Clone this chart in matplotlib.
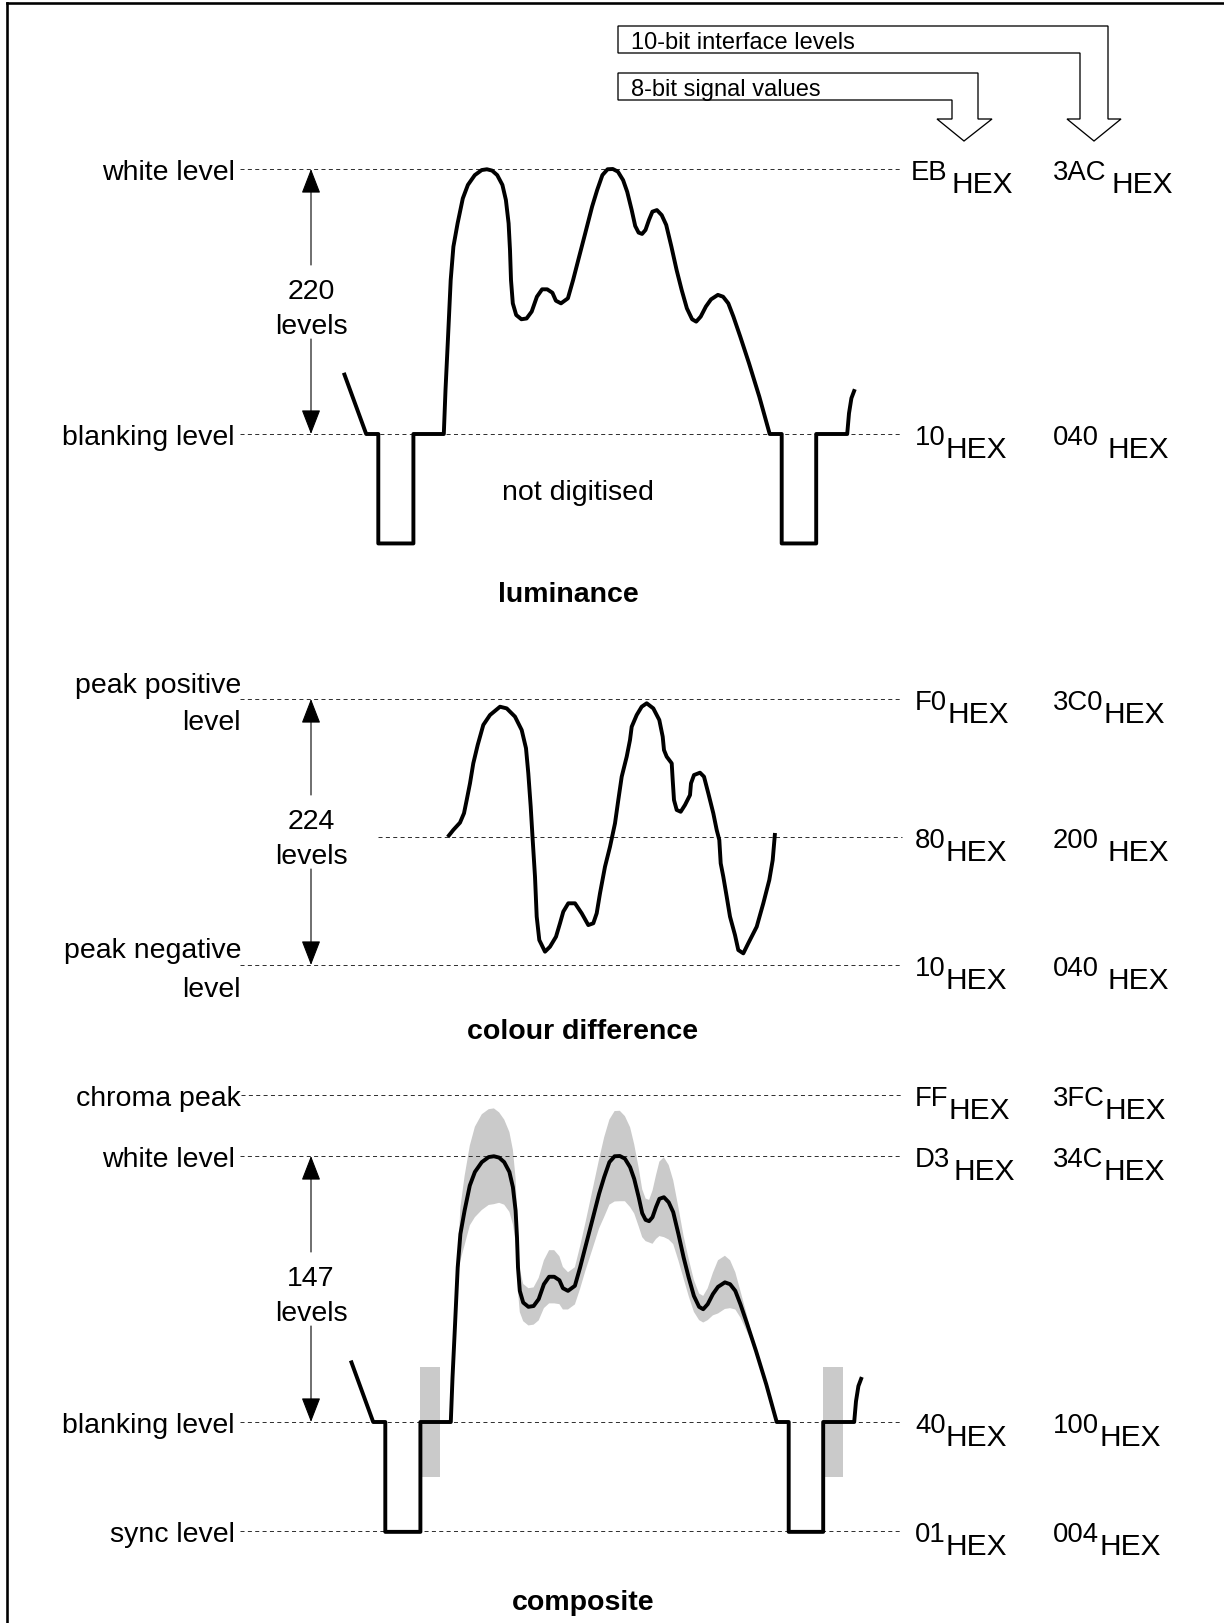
import numpy as np
import matplotlib
matplotlib.use("Agg")
import matplotlib.pyplot as plt
from matplotlib.patches import Polygon, Rectangle

plt.rcParams['font.family'] = ['Liberation Sans', 'DejaVu Sans']
plt.rcParams['lines.scale_dashes'] = False

PX = 0.72  # points per pixel at 100 dpi

# ---------------- data ----------------
# luminance picture signal: x position, level (0 = blanking, 1 = white, negative = sync)
LUMA_X = [343.8, 366.2, 378.3, 378.3, 413.4, 413.4, 443.8, 445.5, 447.9, 450.7, 453.4, 457.6,
          462.8, 467.9, 474.8, 481.7, 486.9, 492.1, 497.2, 502.4, 505.9, 508.6, 510.0, 511.0,
          512.8, 516.2, 521.4, 526.6, 531.7, 536.9, 542.1, 547.2, 552.4, 555.9, 561.0, 567.9,
          573.1, 578.3, 585.2, 592.1, 597.2, 602.4, 607.6, 612.8, 617.9, 623.1, 627.2, 631.7,
          635.2, 638.6, 642.1, 645.5, 649.0, 652.4, 656.9, 661.7, 666.2, 671.4, 676.6, 681.7,
          686.9, 692.1, 696.2, 700.7, 705.9, 711.0, 717.9, 723.1, 728.3, 733.4, 740.3, 749.0,
          759.3, 769.7, 781.7, 781.7, 816.2, 816.2, 847.2, 849.0, 851.4, 854.8]
LUMA_LEVEL = [0.231, 0, 0, -0.413, -0.413, 0, 0, 0.166, 0.355, 0.581, 0.707, 0.795,
              0.889, 0.940, 0.977, 0.996, 0.999, 0.994, 0.977, 0.940, 0.883, 0.795, 0.694, 0.581,
              0.493, 0.449, 0.433, 0.436, 0.462, 0.518, 0.546, 0.546, 0.533, 0.503, 0.493, 0.512,
              0.581, 0.657, 0.757, 0.858, 0.921, 0.977, 0.999, 1.0, 0.990, 0.958, 0.914, 0.845,
              0.785, 0.760, 0.755, 0.770, 0.808, 0.839, 0.845, 0.826, 0.789, 0.707, 0.619, 0.543,
              0.474, 0.433, 0.424, 0.443, 0.481, 0.508, 0.525, 0.518, 0.493, 0.443, 0.367, 0.267,
              0.141, 0, 0, -0.413, -0.413, 0, 0, 0.078, 0.135, 0.169]
# chroma amplitude (same units as level) riding on the composite signal
CHROMA_AMP = [0, 0, 0, 0, 0, 0, 0, 0, 0, 0.03, 0.10, 0.13,
              0.15, 0.17, 0.18, 0.18, 0.18, 0.17, 0.16, 0.15, 0.14, 0.12, 0.10, 0.09,
              0.08, 0.07, 0.07, 0.07, 0.08, 0.09, 0.10, 0.10, 0.09, 0.08, 0.07, 0.07,
              0.08, 0.09, 0.11, 0.13, 0.15, 0.16, 0.17, 0.17, 0.16, 0.15, 0.13, 0.11,
              0.09, 0.08, 0.08, 0.10, 0.12, 0.14, 0.15, 0.14, 0.12, 0.10, 0.08, 0.07,
              0.06, 0.05, 0.05, 0.06, 0.08, 0.10, 0.10, 0.09, 0.07, 0.05, 0.03, 0.0,
              0, 0, 0, 0, 0, 0, 0, 0, 0, 0]
BURST_AMP = 0.207

# colour difference signal: x position, value (+1 = peak positive, 0 = 80HEX, -1 = peak negative)
CD_X = [447.7, 453.3, 460.0, 464.0, 466.7, 470.0, 473.3, 477.7, 483.3, 490.0, 500.0, 506.7,
        515.0, 521.7, 526.0, 528.3, 530.7, 532.7, 535.0, 536.7, 539.3, 545.0, 550.0, 556.0,
        560.0, 563.3, 568.3, 575.0, 581.7, 588.3, 593.3, 596.7, 600.0, 605.0, 610.0, 615.0,
        618.3, 621.7, 626.7, 630.0, 631.7, 636.7, 641.7, 646.7, 653.3, 659.3, 662.7, 664.0,
        666.7, 671.7, 672.7, 674.0, 676.7, 680.7, 685.0, 690.0, 691.0, 694.0, 700.0, 704.0,
        708.3, 713.3, 716.7, 719.3, 720.7, 723.3, 726.7, 730.0, 735.0, 738.3, 743.3, 748.3,
        756.7, 763.3, 769.3, 772.7, 775.0]
CD_V = [0.0, 0.051, 0.104, 0.172, 0.268, 0.389, 0.534, 0.667, 0.812, 0.884, 0.944, 0.932,
        0.872, 0.775, 0.643, 0.462, 0.220, -0.023, -0.310, -0.622, -0.805, -0.896, -0.857, -0.779,
        -0.674, -0.583, -0.518, -0.518, -0.596, -0.688, -0.674, -0.596, -0.440, -0.232, -0.076, 0.099,
        0.268, 0.437, 0.582, 0.703, 0.799, 0.884, 0.944, 0.969, 0.932, 0.848, 0.727, 0.630,
        0.582, 0.534, 0.413, 0.268, 0.196, 0.183, 0.232, 0.304, 0.389, 0.449, 0.466, 0.437,
        0.317, 0.172, 0.051, -0.023, -0.206, -0.310, -0.466, -0.622, -0.766, -0.883, -0.909, -0.830,
        -0.701, -0.518, -0.336, -0.180, 0.029]

# level labels
LUMA_LABELS = ['white level', 'blanking level']
LUMA_HEX8 = ['EB', '10']
LUMA_HEX10 = ['3AC', '040']
CD_HEX8 = ['F0', '80', '10']
CD_HEX10 = ['3C0', '200', '040']
COMP_LABELS = ['chroma peak', 'white level', 'blanking level', 'sync level']
COMP_HEX8 = ['FF', 'D3', '40', '01']
COMP_HEX10 = ['3FC', '34C', '100', '004']
RANGE_COUNTS = ['220', '224', '147']
TITLES = ['luminance', 'colour difference', 'composite']

# ---------------- layout (diagram pixel units) ----------------
LUMA_ROWS = [169, 434]            # white, blanking
CD_ROWS = [699, 837, 965]         # peak +, 80HEX, peak -
COMP_ROWS = [1095, 1156, 1422, 1531]
COMP_DX = 7

fig = plt.figure(figsize=(12.24, 16.23), dpi=100)
ax = fig.add_axes([0, 0, 1, 1])
ax.set_xlim(0, 1224)
ax.set_ylim(1623, 0)
ax.axis('off')
renderer = fig.canvas.get_renderer()

FS_LABEL = 20.5
FS_PRE = 19.8
FS_HEX = 21.5
FS_HEAD = 17
LW_WAVE = 3.9 * PX
BAND = '#cacaca'

# border
ax.plot([7, 7], [1623, 3], color='black', lw=2.6 * PX, solid_capstyle='projecting')
ax.plot([7, 1224], [3, 3], color='black', lw=2.6 * PX, solid_capstyle='projecting')


def dashed(y, x0=240, x1=902):
    ax.plot([x0, x1], [y, y], color='#333333', lw=1.0 * PX, dashes=(2.9, 2.4))


def hex_label(x, line_y, prefix, gap=0):
    t = ax.text(x, line_y + 11, prefix, fontsize=FS_PRE, ha='left', va='baseline')
    bb = t.get_window_extent(renderer)
    x_end = ax.transData.inverted().transform((bb.x1, bb.y0))[0]
    ax.text(x_end + gap, line_y + 24, 'HEX', fontsize=FS_HEX, ha='left', va='baseline')


def range_arrow(x, y_top, y_bot, count, base_y):
    arrow = dict(arrowstyle='-|>,head_length=1.55,head_width=0.6', lw=1.1 * PX,
                 color='black', shrinkA=0, shrinkB=0)
    ax.annotate('', xy=(x, y_top), xytext=(x, base_y - 34), arrowprops=arrow)
    ax.annotate('', xy=(x, y_bot), xytext=(x, base_y + 40), arrowprops=arrow)
    ax.text(x, base_y, count, fontsize=FS_LABEL, ha='center', va='baseline')
    ax.text(x, base_y + 35, 'levels', fontsize=FS_LABEL, ha='center', va='baseline')


GAPS = {'EB': 4, '3AC': 5, '040': 8, '200': 8, 'D3': 3}
HEX_X8 = {'EB': 911}

# ---------------- header ----------------
HEAD10 = [(618, 26), (1108, 26), (1108, 119), (1121, 119), (1094, 141), (1067, 119),
          (1080, 119), (1080, 53), (618, 53)]
HEAD8 = [(618, 73), (978, 73), (978, 119), (992, 119), (964, 141), (937, 119),
         (952, 119), (952, 100), (618, 100)]
for poly in (HEAD10, HEAD8):
    ax.add_patch(Polygon(poly, closed=True, facecolor='white', edgecolor='black',
                         lw=1.3 * PX, joinstyle='miter'))
ax.text(631, 49, '10-bit interface levels', fontsize=FS_HEAD, va='baseline')
ax.text(631, 96, '8-bit signal values', fontsize=FS_HEAD, va='baseline')

# ---------------- luminance ----------------
lx = np.array(LUMA_X)
ll = np.array(LUMA_LEVEL)
for lab, y in zip(LUMA_LABELS, LUMA_ROWS):
    ax.text(235, y + 11, lab, fontsize=FS_LABEL, ha='right', va='baseline')
    dashed(y)
for p8, p10, y in zip(LUMA_HEX8, LUMA_HEX10, LUMA_ROWS):
    hex_label(HEX_X8.get(p8, 915), y, p8, GAPS.get(p8, 0))
    hex_label(1053, y, p10, GAPS.get(p10, 0))
w, b = LUMA_ROWS
ax.plot(lx, b - ll * (b - w), color='black', lw=LW_WAVE,
        solid_joinstyle='round', solid_capstyle='butt')
range_arrow(311, w, b, RANGE_COUNTS[0], 299)
ax.text(578, 500, 'not digitised', fontsize=FS_LABEL, ha='center', va='baseline')
ax.text(568, 602, TITLES[0], fontsize=FS_LABEL, fontweight='bold', ha='center', va='baseline')

# ---------------- colour difference ----------------
top, mid, bot = CD_ROWS
ax.text(241, top - 6, 'peak positive', fontsize=FS_LABEL, ha='right', va='baseline')
ax.text(241, top + 31, 'level', fontsize=FS_LABEL, ha='right', va='baseline')
ax.text(241, bot - 7, 'peak negative', fontsize=FS_LABEL, ha='right', va='baseline')
ax.text(241, bot + 32, 'level', fontsize=FS_LABEL, ha='right', va='baseline')
dashed(top)
dashed(mid, x0=378)
dashed(bot)
for p8, p10, y in zip(CD_HEX8, CD_HEX10, CD_ROWS):
    hex_label(HEX_X8.get(p8, 915), y, p8, GAPS.get(p8, 0))
    hex_label(1053, y, p10, GAPS.get(p10, 0))
cv = np.array(CD_V)
cy = np.where(cv >= 0, mid - cv * (mid - top), mid - cv * (bot - mid))
ax.plot(CD_X, cy, color='black', lw=LW_WAVE, solid_joinstyle='round', solid_capstyle='butt')
range_arrow(311, top, bot, RANGE_COUNTS[1], 829)
ax.text(583, 1039, TITLES[1], fontsize=FS_LABEL, fontweight='bold', ha='center', va='baseline')

# ---------------- composite ----------------
for lab, y in zip(COMP_LABELS, COMP_ROWS):
    xr = 241 if lab == 'chroma peak' else 235
    ax.text(xr, y + 11, lab, fontsize=FS_LABEL, ha='right', va='baseline')
    dashed(y, x0=241 if lab == 'chroma peak' else 240)
for p8, p10, y in zip(COMP_HEX8, COMP_HEX10, COMP_ROWS):
    hex_label(HEX_X8.get(p8, 915), y, p8, GAPS.get(p8, 0))
    hex_label(1053, y, p10, GAPS.get(p10, 0))
cw, cb = COMP_ROWS[1], COMP_ROWS[2]
scale = cb - cw
cx = lx + COMP_DX
cyw = cb - ll * scale
amp = np.array(CHROMA_AMP) * scale
ax.fill_between(cx, cyw - amp, cyw + amp, where=np.array(CHROMA_AMP) > 0,
                facecolor=BAND, edgecolor='none', lw=0, interpolate=True)
# colour bursts on the back porches (after each sync rising edge)
for i in range(len(LUMA_X) - 1):
    if LUMA_LEVEL[i] < 0 and LUMA_LEVEL[i + 1] == 0 and LUMA_X[i] == LUMA_X[i + 1]:
        x0 = LUMA_X[i] + COMP_DX
        ax.add_patch(Rectangle((x0, cb - BURST_AMP * scale), 20, 2 * BURST_AMP * scale,
                               facecolor=BAND, edgecolor='none'))
ax.plot(cx, cyw, color='black', lw=LW_WAVE, solid_joinstyle='round', solid_capstyle='butt')
range_arrow(311, cw, cb, RANGE_COUNTS[2], 1286)
ax.text(583, 1610, TITLES[2], fontsize=FS_LABEL, fontweight='bold', ha='center', va='baseline')

fig.savefig('out.png', dpi=100, facecolor='white')
